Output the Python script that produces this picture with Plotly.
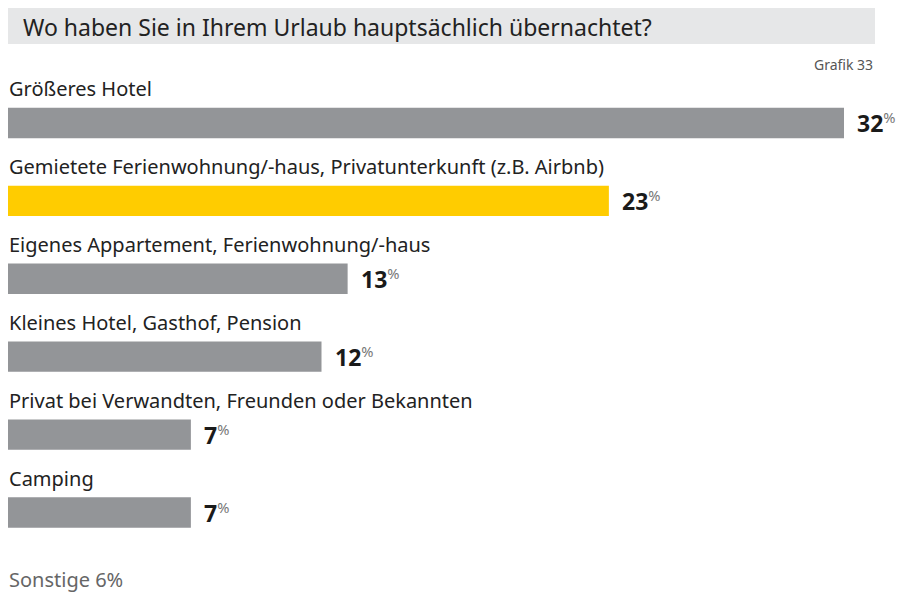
import plotly.graph_objects as go

categories = [
    "Größeres Hotel",
    "Gemietete Ferienwohnung/-haus, Privatunterkunft (z.B. Airbnb)",
    "Eigenes Appartement, Ferienwohnung/-haus",
    "Kleines Hotel, Gasthof, Pension",
    "Privat bei Verwandten, Freunden oder Bekannten",
    "Camping",
]
values = [32, 23, 13, 12, 7, 7]
highlight = [False, True, False, False, False, False]

title = "Wo haben Sie in Ihrem Urlaub hauptsächlich übernachtet?"
source = "Grafik 33"
note = "Sonstige 6%"

GRAY = "#939598"
YELLOW = "#ffcc00"
FONT = "Noto Sans"

# page has an 8px body margin; plot area sits at page x 8..914, y 84..562
FIG_W, FIG_H = 906, 585
T, B = 84, 562
W, H = 906, B - T


def px(x):
    return (x - 8) / W


def py(y):
    return (B - y) / H


colors = [YELLOW if h else GRAY for h in highlight]

fig = go.Figure(
    go.Bar(
        x=values,
        y=categories,
        orientation="h",
        marker=dict(color=colors, line=dict(width=0)),
        width=0.39,
        hoverinfo="skip",
    )
)

annotations = []
for cat, val in zip(categories, values):
    annotations.append(dict(
        x=0, y=cat, xref="x", yref="y", xanchor="left", yanchor="middle",
        xshift=-1, yshift=34, text=cat, showarrow=False,
        font=dict(family=FONT, size=20, color="#222"),
    ))
    annotations.append(dict(
        x=val, y=cat, xref="x", yref="y", xanchor="left", yanchor="middle",
        xshift=11, text="<b>%d</b><span style='font-size:21px;color:#777'><sup>%%</sup></span>" % val,
        showarrow=False, font=dict(family=FONT, size=23, color="#1a1a1a"),
    ))

annotations.append(dict(
    x=px(21), y=py(27), xref="paper", yref="paper", xanchor="left", yanchor="middle",
    text=title, showarrow=False, font=dict(family=FONT, size=23, color="#222"),
))
annotations.append(dict(
    x=px(875), y=py(65), xref="paper", yref="paper", xanchor="right", yanchor="middle",
    text=source, showarrow=False, font=dict(family=FONT, size=14, color="#555"),
))
annotations.append(dict(
    x=px(7), y=py(579), xref="paper", yref="paper", xanchor="left", yanchor="middle",
    text=note, showarrow=False, font=dict(family=FONT, size=20, color="#666"),
))

fig.update_layout(
    width=FIG_W, height=FIG_H,
    margin=dict(l=0, r=0, t=T - 8, b=FIG_H - (B - 8)),
    paper_bgcolor="white", plot_bgcolor="white",
    showlegend=False,
    xaxis=dict(range=[0, 32 * W / 836], visible=False, fixedrange=True),
    yaxis=dict(autorange="reversed", visible=False, fixedrange=True),
    annotations=annotations,
    shapes=[dict(
        type="rect", xref="paper", yref="paper",
        x0=px(7), x1=px(875), y0=py(44), y1=py(0),
        fillcolor="#e6e7e8", line=dict(width=0), layer="below",
    )],
)

fig.write_html("out.html")
